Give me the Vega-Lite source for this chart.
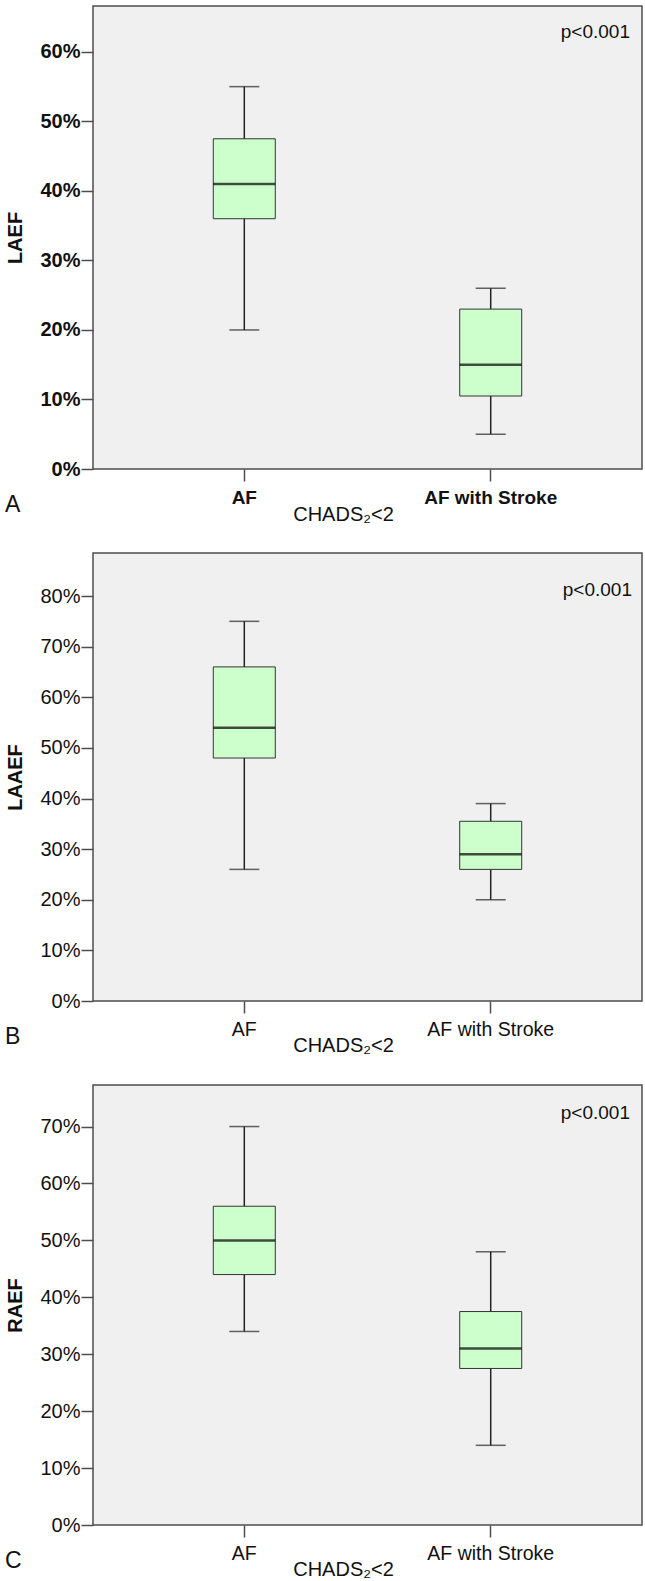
{
  "$schema": "https://vega.github.io/schema/vega-lite/v6.json",
  "background": "white",
  "padding": {"left": 4, "top": 5, "right": 2, "bottom": 0},
  "spacing": 27,
  "config": {
    "font": "Liberation Sans",
    "view": {"fill": "#f0f0f0", "stroke": "#4d4d4d", "strokeWidth": 1.5},
    "axis": {"grid": false, "domain": false, "tickColor": "#4d4d4d", "tickWidth": 1.5, "tickSize": 12, "labelColor": "#111", "titleColor": "#111", "labelFont": "Liberation Sans", "titleFont": "Liberation Sans"},
    "axisY": {"labelPadding": 1, "labelFontSize": 20, "titleFontSize": 20, "titleFontWeight": "bold", "titleX": -68},
    "axisX": {"labelPadding": 7, "labelFontSize": 19.5, "labelAngle": 0, "titleFontSize": 20, "titleFontWeight": "normal", "titleX": 250, "titlePadding": -3},
    "title": {"orient": "bottom", "anchor": "start", "frame": "bounds", "offset": -30, "dx": 0, "fontSize": 23, "fontWeight": "normal", "font": "Liberation Sans", "color": "#111"}
  },
  "vconcat": [
    {
      "width": 549, "height": 463,
      "title": {"text": "A"},
      "data": {"values": [
        {"group": "AF", "lower": 0.20, "q1": 0.36, "median": 0.41, "q3": 0.475, "upper": 0.55},
        {"group": "AF with Stroke", "lower": 0.05, "q1": 0.105, "median": 0.15, "q3": 0.23, "upper": 0.26}
      ]},
      "encoding": {"x": {"field": "group", "type": "nominal", "sort": null, "scale": {"paddingInner": 0, "paddingOuter": 0.114}, "axis": {"title": "CHADS₂<2", "labelFontWeight": "bold", "labelFontSize": 19}}},
      "layer": [
        {"mark": {"type": "rule", "color": "#222", "strokeWidth": 1.5}, "encoding": {"y": {"field": "lower", "type": "quantitative", "title": "LAEF", "scale": {"domain": [0, 0.666], "nice": false}, "axis": {"format": ".0%", "values": [0, 0.1, 0.2, 0.3, 0.4, 0.5, 0.6], "labelFontWeight": "bold"}}, "y2": {"field": "upper"}}},
        {"mark": {"type": "tick", "color": "#222", "thickness": 1.5, "size": 30}, "encoding": {"y": {"field": "lower", "type": "quantitative", "title": "LAEF"}}},
        {"mark": {"type": "tick", "color": "#222", "thickness": 1.5, "size": 30}, "encoding": {"y": {"field": "upper", "type": "quantitative", "title": "LAEF"}}},
        {"mark": {"type": "bar", "fill": "#ccffcc", "stroke": "#333", "strokeWidth": 1, "size": 62}, "encoding": {"y": {"field": "q1", "type": "quantitative", "title": "LAEF"}, "y2": {"field": "q3"}}},
        {"mark": {"type": "tick", "color": "#000", "thickness": 2.5, "size": 62}, "encoding": {"y": {"field": "median", "type": "quantitative", "title": "LAEF"}}},
        {"data": {"values": [{"note": "p<0.001"}]}, "mark": {"type": "text", "align": "right", "baseline": "alphabetic", "fontSize": 19, "dx": -12, "color": "#111"}, "encoding": {"x": {"value": "width"}, "y": {"datum": 0.62, "type": "quantitative"}, "text": {"field": "note"}}}
      ]
    },
    {
      "width": 549, "height": 448,
      "title": {"text": "B"},
      "data": {"values": [
        {"group": "AF", "lower": 0.26, "q1": 0.48, "median": 0.54, "q3": 0.66, "upper": 0.75},
        {"group": "AF with Stroke", "lower": 0.20, "q1": 0.26, "median": 0.29, "q3": 0.355, "upper": 0.39}
      ]},
      "encoding": {"x": {"field": "group", "type": "nominal", "sort": null, "scale": {"paddingInner": 0, "paddingOuter": 0.114}, "axis": {"title": "CHADS₂<2"}}},
      "layer": [
        {"mark": {"type": "rule", "color": "#222", "strokeWidth": 1.5}, "encoding": {"y": {"field": "lower", "type": "quantitative", "title": "LAAEF", "scale": {"domain": [0, 0.885], "nice": false}, "axis": {"format": ".0%", "values": [0, 0.1, 0.2, 0.3, 0.4, 0.5, 0.6, 0.7, 0.8]}}, "y2": {"field": "upper"}}},
        {"mark": {"type": "tick", "color": "#222", "thickness": 1.5, "size": 30}, "encoding": {"y": {"field": "lower", "type": "quantitative", "title": "LAAEF"}}},
        {"mark": {"type": "tick", "color": "#222", "thickness": 1.5, "size": 30}, "encoding": {"y": {"field": "upper", "type": "quantitative", "title": "LAAEF"}}},
        {"mark": {"type": "bar", "fill": "#ccffcc", "stroke": "#333", "strokeWidth": 1, "size": 62}, "encoding": {"y": {"field": "q1", "type": "quantitative", "title": "LAAEF"}, "y2": {"field": "q3"}}},
        {"mark": {"type": "tick", "color": "#000", "thickness": 2.5, "size": 62}, "encoding": {"y": {"field": "median", "type": "quantitative", "title": "LAAEF"}}},
        {"data": {"values": [{"note": "p<0.001"}]}, "mark": {"type": "text", "align": "right", "baseline": "alphabetic", "fontSize": 19, "dx": -10, "color": "#111"}, "encoding": {"x": {"value": "width"}, "y": {"datum": 0.80, "type": "quantitative"}, "text": {"field": "note"}}}
      ]
    },
    {
      "width": 549, "height": 440,
      "title": {"text": "C"},
      "data": {"values": [
        {"group": "AF", "lower": 0.34, "q1": 0.44, "median": 0.50, "q3": 0.56, "upper": 0.70},
        {"group": "AF with Stroke", "lower": 0.14, "q1": 0.275, "median": 0.31, "q3": 0.375, "upper": 0.48}
      ]},
      "encoding": {"x": {"field": "group", "type": "nominal", "sort": null, "scale": {"paddingInner": 0, "paddingOuter": 0.114}, "axis": {"title": "CHADS₂<2"}}},
      "layer": [
        {"mark": {"type": "rule", "color": "#222", "strokeWidth": 1.5}, "encoding": {"y": {"field": "lower", "type": "quantitative", "title": "RAEF", "scale": {"domain": [0, 0.773], "nice": false}, "axis": {"format": ".0%", "values": [0, 0.1, 0.2, 0.3, 0.4, 0.5, 0.6, 0.7]}}, "y2": {"field": "upper"}}},
        {"mark": {"type": "tick", "color": "#222", "thickness": 1.5, "size": 30}, "encoding": {"y": {"field": "lower", "type": "quantitative", "title": "RAEF"}}},
        {"mark": {"type": "tick", "color": "#222", "thickness": 1.5, "size": 30}, "encoding": {"y": {"field": "upper", "type": "quantitative", "title": "RAEF"}}},
        {"mark": {"type": "bar", "fill": "#ccffcc", "stroke": "#333", "strokeWidth": 1, "size": 62}, "encoding": {"y": {"field": "q1", "type": "quantitative", "title": "RAEF"}, "y2": {"field": "q3"}}},
        {"mark": {"type": "tick", "color": "#000", "thickness": 2.5, "size": 62}, "encoding": {"y": {"field": "median", "type": "quantitative", "title": "RAEF"}}},
        {"data": {"values": [{"note": "p<0.001"}]}, "mark": {"type": "text", "align": "right", "baseline": "alphabetic", "fontSize": 19, "dx": -12, "color": "#111"}, "encoding": {"x": {"value": "width"}, "y": {"datum": 0.713, "type": "quantitative"}, "text": {"field": "note"}}}
      ]
    }
  ]
}
